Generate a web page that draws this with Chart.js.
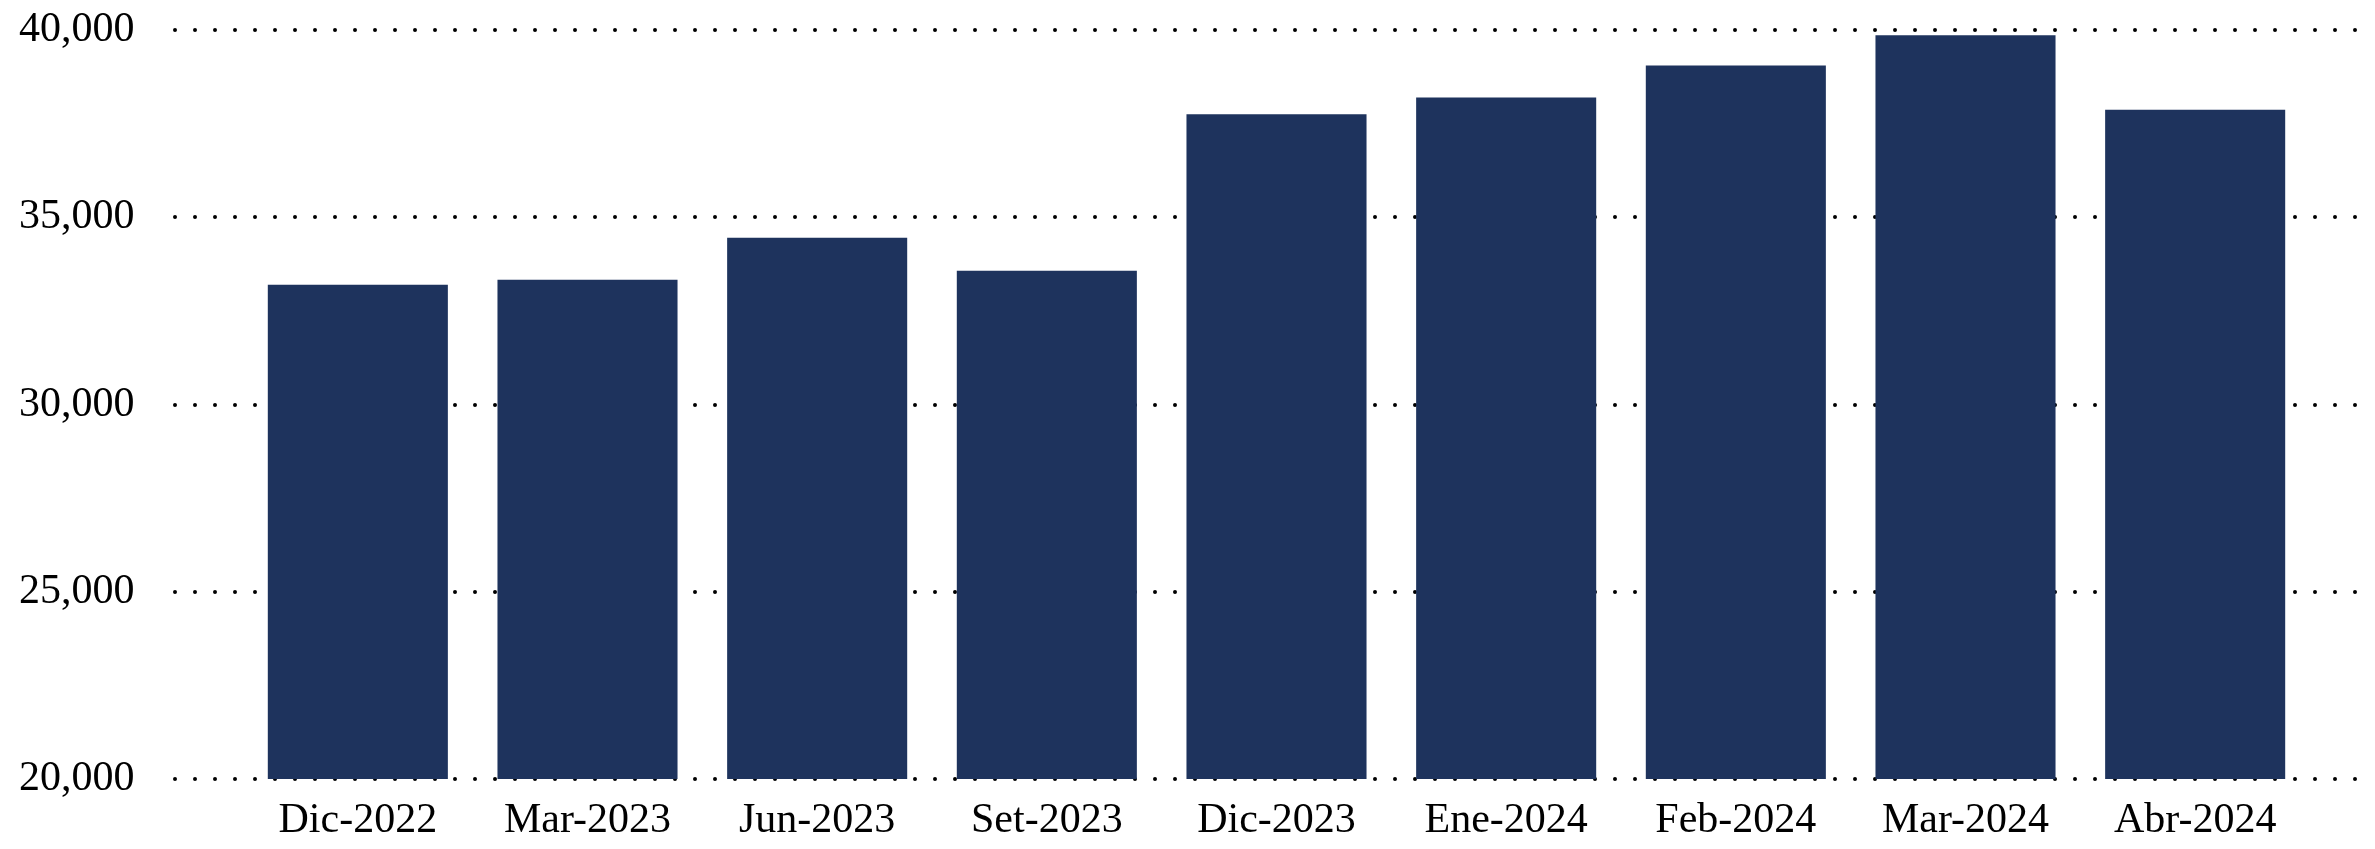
<!DOCTYPE html>
<html lang="es">
<head>
    <meta charset="UTF-8">
    <title>Serie mensual</title>
    <style>
        body {
            margin: 0;
            background: #ffffff;
        }
        #wrap {
            width: 2375px;
            height: 849px;
            position: relative;
        }
    </style>
    <script src="https://cdn.jsdelivr.net/npm/chart.js"></script>
</head>
<body>
    <div id="wrap"><canvas id="grafico"></canvas></div>

    <script>
        // datos
        const periodos = ['Dic-2022', 'Mar-2023', 'Jun-2023', 'Set-2023', 'Dic-2023', 'Ene-2024', 'Feb-2024', 'Mar-2024', 'Abr-2024'];
        const valores = [33200, 33330, 34450, 33570, 37750, 38200, 39050, 39860, 37870];
        const ejeMin = 20000;
        const ejeMax = 40000;
        const paso = 5000;

        const fuente = { family: '"Liberation Serif", "Times New Roman", serif', size: 42 };

        // lineas punteadas que empiezan antes del area del grafico
        const lineasPunteadas = {
            id: 'lineasPunteadas',
            beforeDatasetsDraw(chart) {
                const ctx = chart.ctx;
                const y = chart.scales.y;
                ctx.save();
                ctx.strokeStyle = '#000000';
                ctx.lineWidth = 4;
                ctx.lineCap = 'round';
                ctx.setLineDash([0, 20]);
                y.ticks.forEach(t => {
                    const py = Math.round(y.getPixelForValue(t.value));
                    ctx.beginPath();
                    ctx.moveTo(175, py);
                    ctx.lineTo(chart.width, py);
                    ctx.stroke();
                });
                ctx.restore();
            }
        };

        const ctx = document.getElementById('grafico').getContext('2d');
        new Chart(ctx, {
            type: 'bar',
            data: {
                labels: periodos,
                datasets: [{
                    data: valores,
                    backgroundColor: '#1e335d',
                    borderWidth: 0,
                    categoryPercentage: 1,
                    barPercentage: 0.784
                }]
            },
            options: {
                responsive: true,
                maintainAspectRatio: false,
                animation: false,
                layout: {
                    padding: { left: 19, right: 65, top: 30, bottom: 0 }
                },
                plugins: {
                    legend: { display: false },
                    tooltip: { enabled: false }
                },
                scales: {
                    x: {
                        grid: { display: false, drawTicks: false },
                        border: { display: false },
                        ticks: {
                            color: '#000000',
                            font: fuente,
                            padding: 17,
                            maxRotation: 0
                        },
                        afterFit(scale) { scale.height = 70; }
                    },
                    y: {
                        min: ejeMin,
                        max: ejeMax,
                        grid: { display: false, drawTicks: false },
                        border: { display: false },
                        ticks: {
                            stepSize: paso,
                            color: '#000000',
                            font: fuente,
                            padding: 0,
                            crossAlign: 'far',
                            callback: v => v.toLocaleString('en-US')
                        },
                        afterFit(scale) { scale.width = 224; }
                    }
                }
            },
            plugins: [lineasPunteadas]
        });
    </script>
</body>
</html>
